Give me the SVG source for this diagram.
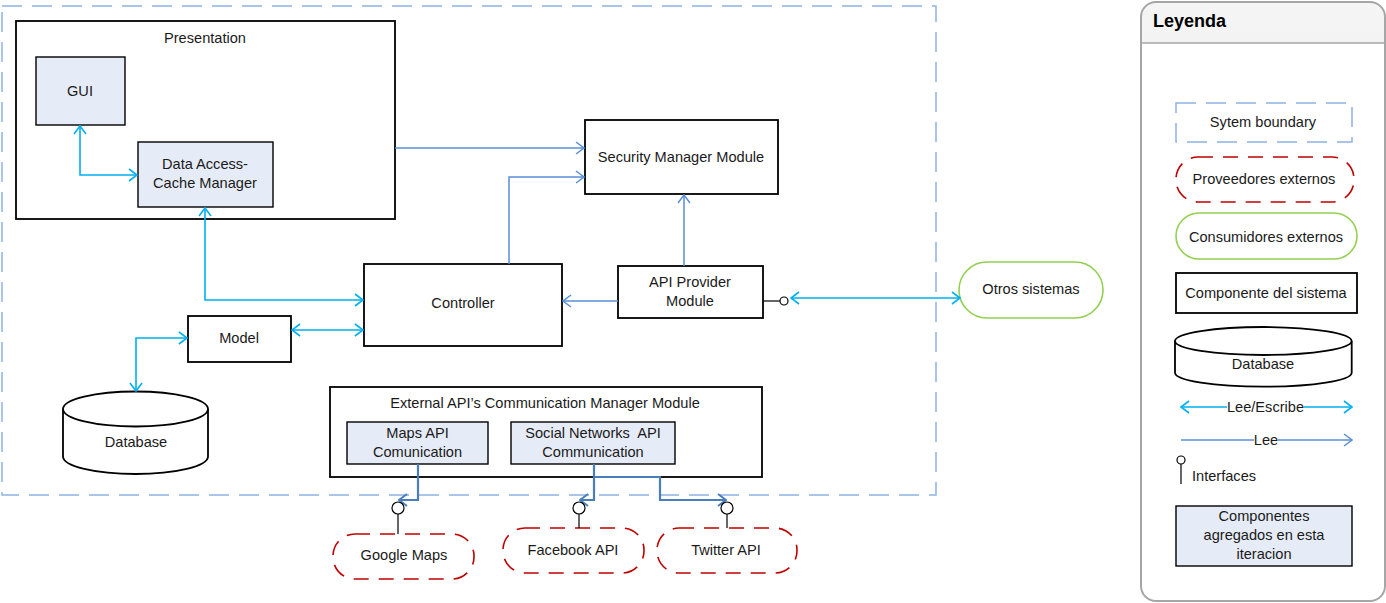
<svg xmlns="http://www.w3.org/2000/svg" width="1386" height="603" viewBox="0 0 1386 603">
<style>
text{font-family:"Liberation Sans",Arial,sans-serif;font-size:14.6px;fill:#1a1a1a;text-anchor:middle}
.box{fill:#fff;stroke:#000;stroke-width:1.8}
.nb{fill:#e6ecf7;stroke:#000;stroke-width:1.4}
.rw{fill:none;stroke:#00b0f0;stroke-width:1.6}
.rd{fill:none;stroke:#5b8fd6;stroke-width:1.5}
.rd2{fill:none;stroke:#4a7ebb;stroke-width:2.2}
.bnd{fill:none;stroke:#8db3e2;stroke-width:1.5;stroke-dasharray:20 10}
.ext{fill:#fff;stroke:#c00000;stroke-width:1.6;stroke-dasharray:15 10}
.cons{fill:#fff;stroke:#92d050;stroke-width:1.6}
.if{fill:#fff;stroke:#000;stroke-width:1.2}
</style>
<defs>
<marker id="ac" viewBox="0 0 10 14" refX="9" refY="7" markerWidth="10" markerHeight="14" markerUnits="userSpaceOnUse" orient="auto-start-reverse"><path d="M1,1 L9,7 L1,13" fill="none" stroke="#00b0f0" stroke-width="1.6"/></marker>
<marker id="ab" viewBox="0 0 10 14" refX="9" refY="7" markerWidth="10" markerHeight="14" markerUnits="userSpaceOnUse" orient="auto-start-reverse"><path d="M1,1 L9,7 L1,13" fill="none" stroke="#5b8fd6" stroke-width="1.5"/></marker>
<marker id="ab2" viewBox="0 0 10 14" refX="9" refY="7" markerWidth="10" markerHeight="14" markerUnits="userSpaceOnUse" orient="auto-start-reverse"><path d="M1,1 L9,7 L1,13" fill="none" stroke="#4a7ebb" stroke-width="2"/></marker>
<linearGradient id="hd" x1="0" y1="0" x2="0" y2="1"><stop offset="0" stop-color="#f5f5f5"/><stop offset="1" stop-color="#d6d6d6"/></linearGradient>
</defs>
<rect width="1386" height="603" fill="#fff"/>

<g id="system-boundary"><rect class="bnd" x="2" y="6" width="934" height="489"/></g>

<g id="presentation"><rect class="box" x="16" y="21" width="379" height="198"/><text x="205" y="43">Presentation</text></g>
<g id="gui"><rect class="nb" x="36" y="57" width="89" height="68"/><text x="80" y="96">GUI</text></g>
<g id="data-access"><rect class="nb" x="138" y="142" width="135" height="65"/><text x="205" y="169">Data Access-</text><text x="205" y="188">Cache Manager</text></g>
<g id="security"><rect class="box" x="585" y="120" width="193" height="74"/><text x="681" y="162">Security Manager Module</text></g>
<g id="controller"><rect class="box" x="364" y="264" width="198" height="82"/><text x="463" y="308">Controller</text></g>
<g id="api-provider"><rect class="box" x="618" y="266" width="145" height="52"/><text x="690" y="287">API Provider</text><text x="690" y="306">Module</text></g>
<g id="model"><rect class="box" x="188" y="316" width="103" height="46"/><text x="239" y="343">Model</text></g>
<g id="database"><path class="box" d="M63,409 V456.5 A72.5,17.5 0 0 0 208,456.5 V409"/><ellipse class="box" cx="135.5" cy="409" rx="72.5" ry="17.5"/><text x="136" y="447">Database</text></g>
<g id="ext-comm"><rect class="box" x="330" y="387" width="432" height="90"/><text x="545" y="408">External API’s Communication Manager Module</text></g>
<g id="maps-comm"><rect class="nb" x="347" y="422" width="141" height="42"/><text x="417.5" y="438">Maps API</text><text x="417.5" y="457">Comunication</text></g>
<g id="social-comm"><rect class="nb" x="511" y="422" width="164" height="42"/><text x="593" y="438" xml:space="preserve">Social Networks  API</text><text x="593" y="457">Communication</text></g>
<g id="otros"><rect class="cons" x="959" y="262" width="144" height="56" rx="28"/><text x="1031" y="294">Otros sistemas</text></g>
<g id="google-maps"><rect class="ext" x="333" y="534" width="141" height="45" rx="22"/><text x="404" y="560">Google Maps</text></g>
<g id="facebook"><rect class="ext" x="503" y="528" width="141" height="45" rx="22"/><text x="573" y="555">Facebook API</text></g>
<g id="twitter"><rect class="ext" x="657" y="528" width="140" height="45" rx="22"/><text x="726" y="555">Twitter API</text></g>

<g id="connectors">
<path class="rw" d="M80,126 V175 H137" marker-start="url(#ac)" marker-end="url(#ac)"/>
<path class="rw" d="M205,208 V300 H363" marker-start="url(#ac)" marker-end="url(#ac)"/>
<path class="rw" d="M292,330 H363" marker-start="url(#ac)" marker-end="url(#ac)"/>
<path class="rw" d="M187,338 H136 V391" marker-start="url(#ac)" marker-end="url(#ac)"/>
<path class="rd" d="M395,148 H584" marker-end="url(#ab)"/>
<path class="rd" d="M509,264 V177 H584" marker-end="url(#ab)"/>
<path class="rd" d="M684,266 V195" marker-end="url(#ab)"/>
<path class="rd" d="M618,301 H563" marker-end="url(#ab)"/>
<line x1="763" y1="301" x2="780" y2="301" stroke="#000" stroke-width="1.2"/>
<circle class="if" cx="784" cy="301" r="4"/>
<path class="rw" d="M791,298 H960" marker-start="url(#ac)" marker-end="url(#ac)"/>
<path class="rd2" d="M418,464 V500 H399" marker-end="url(#ab2)"/>
<path class="rd2" d="M594,464 V500 H580" marker-end="url(#ab2)"/>
<path class="rd2" d="M594,477 H660 V500 H726" marker-end="url(#ab2)"/>
<circle class="if" cx="398" cy="508" r="6"/><line x1="398" y1="514" x2="398" y2="534" stroke="#000" stroke-width="1.2"/>
<circle class="if" cx="579" cy="508" r="6"/><line x1="579" y1="514" x2="579" y2="528" stroke="#000" stroke-width="1.2"/>
<circle class="if" cx="727" cy="508" r="6"/><line x1="727" y1="514" x2="727" y2="528" stroke="#000" stroke-width="1.2"/>
</g>

<g id="legend">
<path d="M1141,601 V17 A15,15 0 0 1 1156,2 H1370 A15,15 0 0 1 1385,17 V43 H1141" fill="url(#hd)" stroke="none"/>
<rect x="1141" y="2" width="244" height="599" rx="15" fill="none" stroke="#a6a6a6" stroke-width="2"/>
<line x1="1141" y1="43" x2="1385" y2="43" stroke="#a6a6a6" stroke-width="1.5"/>
<text x="1153" y="27" style="font-weight:bold;font-size:18px;text-anchor:start;fill:#000">Leyenda</text>
<rect class="bnd" x="1176" y="103" width="176" height="39"/><text x="1263" y="127">Sytem boundary</text>
<rect class="ext" x="1176" y="157" width="178" height="45" rx="22"/><text x="1264" y="184">Proveedores externos</text>
<rect class="cons" x="1176" y="213" width="181" height="46" rx="23"/><text x="1266" y="242">Consumidores externos</text>
<rect class="box" x="1176" y="273" width="181" height="40"/><text x="1266" y="298">Componente del sistema</text>
<path class="box" d="M1175,341 V372.7 A88.3,14 0 0 0 1351.7,372.7 V341"/><ellipse class="box" cx="1263.3" cy="341" rx="88.3" ry="14"/><text x="1263" y="369">Database</text>
<path class="rw" d="M1181,407 H1227" marker-start="url(#ac)"/><path class="rw" d="M1304,407 H1352" marker-end="url(#ac)"/><text x="1265.5" y="412">Lee/Escribe</text>
<path class="rd" d="M1181,440 H1254"/><path class="rd" d="M1278,440 H1352" marker-end="url(#ab)"/><text x="1266" y="445">Lee</text>
<circle class="if" cx="1181" cy="460" r="4"/><line x1="1181" y1="464" x2="1181" y2="484" stroke="#000" stroke-width="1.2"/><text x="1192" y="481" style="text-anchor:start">Interfaces</text>
<rect class="nb" x="1176" y="506" width="176" height="60"/><text x="1264" y="521">Componentes</text><text x="1264" y="540">agregados en esta</text><text x="1264" y="559">iteracion</text>
</g>
</svg>
